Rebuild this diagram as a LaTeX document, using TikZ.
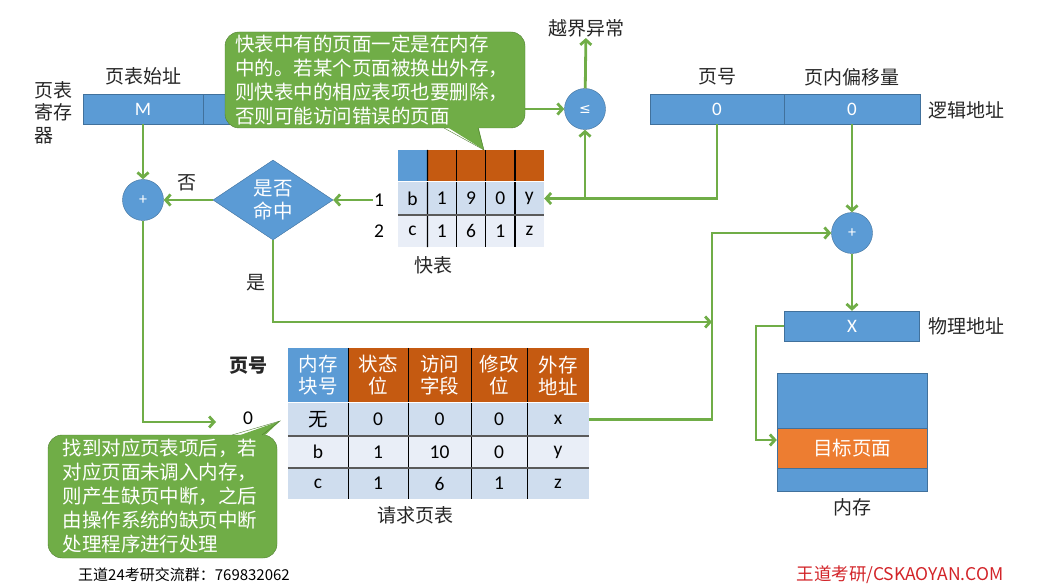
\documentclass[tikz,border=0pt]{standalone}
\usepackage{fontspec}
\setmainfont{Carlito}
\newfontfamily\cjk{Noto Sans CJK SC}
\newfontfamily\symf{DejaVu Sans}
\usetikzlibrary{arrows.meta,shapes.geometric,positioning}
\definecolor{blu}{RGB}{91,155,213}
\definecolor{bluedge}{RGB}{65,113,156}
\definecolor{hdr}{RGB}{197,90,17}
\definecolor{tgtclr}{RGB}{237,125,49}
\definecolor{grn}{RGB}{112,173,71}
\definecolor{grnedge}{RGB}{80,126,50}
\definecolor{rowa}{RGB}{207,221,238}
\definecolor{rowb}{RGB}{233,238,247}
\definecolor{sepclr}{RGB}{90,90,90}
\definecolor{wdred}{RGB}{210,35,40}
\tikzset{
  %% blue address bar cell
  bar/.style={rectangle,draw=bluedge,fill=blu,text=white,inner sep=0pt,
    minimum height=30pt,font=\fontsize{19}{22}\selectfont},
  %% adder / comparator circle
  op/.style={circle,draw=bluedge,fill=blu,text=white,minimum size=41pt,
    inner sep=0pt,font=\fontsize{16}{18}\selectfont},
  %% decision diamond
  dec/.style={diamond,draw=bluedge,fill=blu,text=white,minimum width=120pt,
    minimum height=80pt,inner sep=0pt,align=center,
    font=\cjk\fontsize{19.5}{23}\selectfont},
  %% table cells
  hcell/.style={rectangle,inner sep=0pt,text=white,align=center,
    font=\cjk\fontsize{19.5}{22}\selectfont},
  cell/.style={rectangle,inner sep=0pt,text=black,
    font=\fontsize{19.5}{22}\selectfont},
  %% green note box
  note/.style={rectangle,rounded corners=14pt,draw=grnedge,fill=grn,
    text=white,align=left,inner sep=0pt,
    font=\cjk\fontsize{19.5}{24}\selectfont},
  %% plain labels
  lbl/.style={font=\cjk\fontsize{19}{22.5}\selectfont,text=black!85,inner sep=1pt},
  num/.style={font=\fontsize{19.5}{22}\selectfont,inner sep=1pt},
  %% connectors
  arr/.style={draw=grn,line width=2.8pt,-{Straight Barb[length=5pt,width=11pt]}},
  vsep/.style={draw=black,line width=1.2pt},
  hsep/.style={draw=sepclr,line width=1.5pt},
}
\begin{document}
\begin{tikzpicture}[x=1pt,y=-1pt]
\useasboundingbox (0,0) rectangle (1042,588);

%% page table register
\node[bar,minimum width=120pt] (reg-m) at (143,109) {M};
\node[bar,minimum width=122pt,right=0pt of reg-m] (reg-l) {};
\node[lbl] (reg-t) at (143,76) {页表始址};
\node[lbl,anchor=north west,align=left] (reg-n) at (33,80) {页表\\寄存\\器};

%% comparator
\node[op,font=\symf\fontsize{14}{16}\selectfont] (cmp) at (585,109) {≤};
\node[lbl] (err) at (586,28) {越界异常};

%% logical address
\node[bar,minimum width=134pt] (la-p) at (717,109) {0};
\node[bar,minimum width=136pt] (la-o) at (852,109) {0};
\node[lbl] (la-pt) at (717,77) {页号};
\node[lbl] (la-ot) at (852,77) {页内偏移量};
\node[lbl] (la-n) at (966,110) {逻辑地址};

%% adders
\node[op] (add1) at (143,200) {+};
\node[op] (add2) at (852,233) {+};

%% physical address
\node[bar,minimum width=135pt] (pa) at (852,326) {X};
\node[lbl] (pa-n) at (966,326) {物理地址};

%% memory
\node[rectangle,draw=bluedge,fill=blu,minimum width=150pt,minimum height=118pt] (mem) at (852,432) {};
\node[bar,fill=tgtclr,minimum width=150pt,minimum height=40pt,
  font=\cjk\fontsize{19.5}{22}\selectfont] (tgt) at (852,448) {目标页面};
\node[lbl] (mem-n) at (852,507) {内存};

%% TLB
\node[hcell,fill=blu,minimum width=29.2pt,minimum height=32pt] (k-0-1) at (412.6,166) {};
\foreach \c in {2,...,5}
  \node[hcell,fill=hdr,minimum width=29.2pt,minimum height=32pt] (k-0-\c) at ({398+29.2*(\c-0.5)},166) {};
\foreach \c/\ra/\rb in {1/b/c,2/1/1,3/9/6,4/0/1,5/y/z}{
  \node[cell,fill=rowa,minimum width=29.2pt,minimum height=33pt] (k-1-\c) at ({398+29.2*(\c-0.5)},198.5) {\ra};
  \node[cell,fill=rowb,minimum width=29.2pt,minimum height=32pt] (k-2-\c) at ({398+29.2*(\c-0.5)},231) {\rb};
}
\foreach \c in {1,...,4}
  \draw[vsep] (k-0-\c.north east) -- (k-2-\c.south east);
\draw[draw=white,line width=1pt] (k-1-1.north west) -- (k-1-5.north east);
\draw[hsep] (k-2-1.north west) -- (k-2-5.north east);
\node[num] (r1) at (379,200) {1};
\node[num] (r2) at (379,231) {2};
\node[lbl] (tlb-n) at (433,265) {快表};

%% hit test
\node[dec] (hit) at (273,200) {是否\\命中};
\node[lbl] (no) at (187,183) {否};
\node[lbl] (yes) at (256,283) {是};

%% request page table
\node[hcell,fill=blu,minimum width=60pt,minimum height=55pt] (p-0-1) at (318,375.5) {内存\\块号};
\foreach \c/\x/\w/\hd in {2/378/60/状态\\位,3/439.5/63/访问\\字段,4/499/56/修改\\位,5/558/62/外存\\地址}
  \node[hcell,fill=hdr,minimum width=\w pt,minimum height=55pt] (p-0-\c) at (\x,375.5) {\hd};
\foreach \c/\x/\w/\ra/\rb/\rc in {1/318/60/{\cjk 无}/b/c,2/378/60/0/1/1,3/439.5/63/0/10/6,4/499/56/0/0/1,5/558/62/x/y/z}{
  \node[cell,fill=rowa,minimum width=\w pt,minimum height=33pt] (p-1-\c) at (\x,419.5) {\ra};
  \node[cell,fill=rowb,minimum width=\w pt,minimum height=32pt] (p-2-\c) at (\x,452) {\rb};
  \node[cell,fill=rowa,minimum width=\w pt,minimum height=31pt] (p-3-\c) at (\x,483.5) {\rc};
}
\foreach \c in {1,...,4}
  \draw[vsep] (p-0-\c.north east) -- (p-3-\c.south east);
\draw[draw=white,line width=1pt] (p-1-1.north west) -- (p-1-5.north east);
\foreach \r in {2,3}
  \draw[hsep] (p-\r-1.north west) -- (p-\r-5.north east);
\node[lbl,font=\cjk\bfseries\fontsize{19}{22}\selectfont] (pn-t) at (248,366) {页号};
\node[num] (pn) at (248,418) {0};
\node[lbl] (pt-n) at (415,515) {请求页表};

%% connectors
\coordinate (pte) at (216,422);
\coordinate (bus) at (712,233);
\coordinate (hitj) at (712,322);
\coordinate (drop) at (756,440);
\draw[arr] (reg-m) -- (add1);
\draw[arr] (reg-l.east) -- (cmp.west);
\draw[arr] (cmp) -- (err);
\draw[arr] (la-p.south) |- (k-1-5.east);
\draw[arr] (cmp |- k-1-5) -- (cmp.south);
\draw[arr] (la-o) -- (add2);
\draw[arr] (add2) -- (pa);
\draw[arr] (r1.west) -- (hit.east);
\draw[arr] (hit.west) -- (hit.west -| add1.east);
\draw[arr] (hit.south) |- (hitj);
\draw[arr] (add1.south) |- (pte);
\draw[arr] (p-1-5.east) -| (bus) -- (add2.west);
\draw[arr] (pa.west) -| (drop) -- (drop -| tgt.west);

%% notes
\node[note,minimum width=300pt,minimum height=96pt,text width=280pt] (tip1) at (375,80)
  {快表中有的页面一定是在内存\\中的。若某个页面被换出外存，\\则快表中的相应表项也要删除，\\否则可能访问错误的页面};
\fill[grn] (444,125) -- (484,150) -- (478,125) -- cycle;
\draw[grnedge] (444,128) -- (484,150) -- (478,128);
\node[note,minimum width=229pt,minimum height=123pt,text width=200pt] (tip2) at (162.5,496.5)
  {找到对应页表项后，若\\对应页面未调入内存，\\则产生缺页中断，之后\\由操作系统的缺页中断\\处理程序进行处理};
\fill[grn] (232,438) -- (280,421) -- (262,438) -- cycle;
\draw[grnedge] (232,435) -- (280,421) -- (262,435);

%% footer
\node[font=\cjk\fontsize{15}{18}\selectfont] (grp) at (184,575) {王道24考研交流群：769832062};
\node[font=\cjk\fontsize{17.5}{20}\selectfont,text=wdred] (site) at (900,575) {王道考研/CSKAOYAN.COM};
\end{tikzpicture}
\end{document}
